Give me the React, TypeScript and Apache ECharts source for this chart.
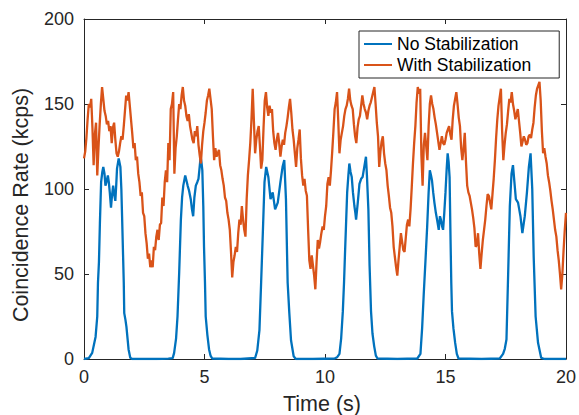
import React, { useEffect, useRef } from "react";
import * as echarts from "echarts";

const seriesNames = ["No Stabilization", "With Stabilization"];
const xTicks = [0, 5, 10, 15, 20];
const yTicks = [0, 50, 100, 150, 200];
const xTitle = "Time (s)";
const yTitle = "Coincidence Rate (kcps)";

// No Stabilization: time (s) and rate (kcps) (one row per pulse)
const noStabT = [
  0.0, 0.2, 0.34, 0.48, 0.55, 0.58, 0.62, 0.66, 0.71, 0.76, 0.8, 0.85, 0.89, 0.93, 0.99, 1.03, 1.07, 1.12, 1.16, 1.21, 1.25, 1.3, 1.34, 1.37, 1.44, 1.51, 1.55, 1.58, 1.65, 1.67, 1.72, 1.76, 1.85, 1.92, 2.0, 2.5, 3.0, 3.5,
  3.68, 3.74, 3.82, 3.88, 3.95, 4.02, 4.07, 4.12, 4.2, 4.25, 4.3, 4.36, 4.43, 4.48, 4.53, 4.58, 4.64, 4.7, 4.75, 4.8, 4.84, 4.88, 4.91, 4.95, 4.98, 5.02, 5.05, 5.12, 5.19, 5.25, 5.32, 6.0, 6.5,
  7.1, 7.19, 7.28, 7.35, 7.42, 7.49, 7.56, 7.65, 7.74, 7.83, 7.93, 8.04, 8.15, 8.24, 8.31, 8.38, 8.45, 8.52, 8.59, 8.7, 8.79, 9.5,
  10.4, 10.5, 10.6, 10.67, 10.74, 10.79, 10.83, 10.88, 10.92, 10.97, 11.01, 11.06, 11.11, 11.16, 11.22, 11.26, 11.29, 11.36, 11.43, 11.5, 11.56, 11.63, 11.7, 11.74, 11.8, 11.85, 11.91, 11.97, 12.04, 12.11, 12.18, 13.0,
  13.83, 13.96, 14.03, 14.1, 14.17, 14.24, 14.3, 14.35, 14.4, 14.44, 14.49, 14.54, 14.6, 14.65, 14.72, 14.77, 14.81, 14.86, 14.9, 14.95, 15.0, 15.05, 15.09, 15.13, 15.17, 15.21, 15.24, 15.27, 15.33, 15.4, 15.47, 15.54, 16.5,
  17.25, 17.39, 17.46, 17.53, 17.6, 17.67, 17.74, 17.8, 17.86, 17.92, 18.01, 18.06, 18.11, 18.19, 18.29, 18.38, 18.46, 18.53, 18.6, 18.66, 18.74, 18.84, 18.97, 19.11, 19.5, 20.0,
];
const noStabV = [
  0, 0.5, 3.6, 13, 25, 45, 57, 80, 104, 110, 113, 109, 102, 104, 108, 104, 98, 89, 96, 102, 97, 93, 103, 112, 118, 113, 100, 84, 45, 27, 23, 19, 5.6, 0.7, 0, 0, 0, 0.2,
  0.5, 3.6, 12, 25, 51, 82, 95, 102, 108, 105, 102, 99, 94, 88, 84, 95, 102, 104, 106, 113, 119, 115, 111, 90, 66, 45, 25, 14, 5.6, 2, 0.3, 0, 0,
  0.6, 5, 17, 45, 74, 104, 113, 107, 94, 98, 88, 92, 104, 113, 117, 94, 45, 27, 11, 1.6, 0, 0,
  0.3, 1, 3, 12, 28, 45, 62, 82, 98, 108, 115, 110, 107, 98, 90, 86, 82, 92, 103, 106, 107, 113, 119, 108, 88, 55, 28, 15, 7.6, 2, 0.3, 0,
  0.3, 3, 18, 39, 58, 78, 98, 111, 108, 105, 98, 92, 86, 82, 76, 84, 82, 78, 76, 86, 98, 112, 121, 116, 107, 70, 45, 28, 18, 9.6, 3, 0.3, 0,
  0.3, 3, 6, 11.5, 50, 90, 109, 114, 104, 94, 92, 88, 84, 74, 84, 98, 113, 121, 100, 60, 25, 9.5, 0.7, 0, 0, 0,
];

// With Stabilization: one value every 0.05 s, one row per second (kcps)
const withStabStep = 0.05;
const withStabV = [
  118, 122, 130, 141, 150, 148, 153, 136, 114, 132, 139, 108, 124, 138, 150, 160, 153, 146, 143, 138,
  140, 134, 137, 127, 136, 139, 129, 121, 119, 122, 127, 131, 129, 137, 146, 155, 152, 157, 149, 141,
  133, 124, 127, 117, 119, 109, 104, 96, 98, 86, 84, 74, 68, 59, 62, 54, 58, 54, 66, 64,
  72, 76, 70, 79, 80, 95, 90, 104, 111, 104, 127, 117, 147, 150, 157, 109, 124, 131, 141, 150,
  147, 155, 160, 152, 149, 143, 140, 144, 137, 133, 129, 127, 134, 131, 137, 126, 120, 115, 126, 134,
  139, 145, 152, 155, 159, 153, 147, 131, 117, 124, 119, 121, 123, 114, 111, 106, 102, 95, 93, 86,
  82, 76, 63, 48, 57, 61, 66, 63, 74, 82, 79, 90, 82, 76, 72, 94, 108, 117, 127, 141,
  159, 140, 121, 129, 134, 137, 125, 112, 117, 136, 152, 157, 148, 143, 149, 145, 147, 134, 127, 123,
  129, 133, 127, 119, 125, 129, 126, 133, 137, 142, 148, 153, 145, 135, 129, 121, 113, 124, 129, 135,
  118, 108, 102, 106, 99, 96, 76, 58, 53, 61, 55, 49, 41, 57, 70, 65, 69, 74, 78, 76,
  84, 90, 103, 107, 102, 111, 122, 134, 147, 151, 157, 140, 121, 129, 133, 137, 143, 147, 149, 153,
  159, 152, 149, 147, 138, 131, 127, 136, 141, 143, 149, 155, 150, 147, 145, 141, 146, 149, 151, 154,
  157, 160, 150, 139, 131, 113, 122, 128, 131, 121, 115, 111, 102, 96, 89, 86, 78, 66, 60, 54,
  49, 58, 66, 74, 69, 64, 63, 71, 79, 82, 78, 88, 101, 115, 127, 137, 151, 160, 156, 159,
  120, 102, 126, 133, 125, 117, 137, 150, 155, 150, 147, 142, 138, 133, 128, 123, 127, 131, 127, 126,
  129, 133, 135, 137, 132, 129, 141, 149, 153, 157, 150, 142, 137, 124, 117, 124, 133, 116, 102, 98,
  96, 92, 88, 83, 77, 66, 67, 74, 62, 53, 62, 70, 76, 82, 90, 97, 96, 92, 88, 97,
  106, 117, 130, 141, 149, 154, 159, 134, 117, 126, 133, 138, 146, 153, 151, 157, 150, 146, 141, 144,
  147, 140, 133, 125, 128, 131, 129, 126, 127, 131, 132, 130, 135, 139, 148, 155, 159, 161, 163, 152,
  134, 121, 124, 119, 115, 108, 104, 99, 93, 88, 82, 76, 72, 64, 58, 50, 41, 50, 64, 76, 86,
];

const FONT = "'Liberation Sans', Arial, Helvetica, sans-serif";
const INK = "#262626";
const BLUE = "#0072BD";
const ORANGE = "#D95319";

export default function App() {
  const ref = useRef<HTMLDivElement>(null);

  useEffect(() => {
    if (!ref.current) return;
    const chart = echarts.init(ref.current, undefined, { renderer: "svg" });

    const noStab = noStabT.map((t, i) => [t, noStabV[i]]);
    const withStab = withStabV.map((v, i) => [Number((i * withStabStep).toFixed(2)), v]);

    const baseAxis = {
      type: "value" as const,
      splitLine: { show: false },
      axisLine: { show: true, onZero: false, lineStyle: { color: INK, width: 1 } },
      axisTick: { show: true, inside: true, length: 5, lineStyle: { color: INK, width: 1 } },
    };

    chart.setOption({
      animation: false,
      textStyle: { fontFamily: FONT },
      grid: { left: 84, top: 19, width: 486, height: 340, containLabel: false },
      legend: {
        data: seriesNames,
        orient: "vertical",
        left: 359,
        top: 31,
        padding: [4, 28, 4, 5],
        itemGap: 3,
        itemWidth: 28,
        itemHeight: 2,
        icon: "rect",
        borderColor: INK,
        borderWidth: 1,
        backgroundColor: "#ffffff",
        textStyle: { fontFamily: FONT, fontSize: 17.5, color: "#000000", lineHeight: 18 },
      },
      graphic: [
        {
          type: "text",
          x: 322,
          y: 404,
          style: {
            text: xTitle,
            font: `21.5px ${FONT}`,
            fill: INK,
            align: "center",
            verticalAlign: "middle",
          },
        },
        {
          type: "text",
          x: 21,
          y: 205,
          rotation: Math.PI / 2,
          style: {
            text: yTitle,
            font: `21.5px ${FONT}`,
            fill: INK,
            align: "center",
            verticalAlign: "middle",
          },
        },
      ],
      xAxis: [
        {
          ...baseAxis,
          min: xTicks[0],
          max: xTicks[xTicks.length - 1],
          interval: 5,
          position: "bottom",
          axisLabel: { fontFamily: FONT, fontSize: 18, color: INK, margin: 9 },
        },
        {
          ...baseAxis,
          min: xTicks[0],
          max: xTicks[xTicks.length - 1],
          interval: 5,
          position: "top",
          axisLabel: { show: false },
        },
      ],
      yAxis: [
        {
          ...baseAxis,
          min: yTicks[0],
          max: yTicks[yTicks.length - 1],
          interval: 50,
          position: "left",
          axisLabel: { fontFamily: FONT, fontSize: 18, color: INK, margin: 10 },
        },
        {
          ...baseAxis,
          min: yTicks[0],
          max: yTicks[yTicks.length - 1],
          interval: 50,
          position: "right",
          axisLabel: { show: false },
        },
      ],
      series: [
        {
          name: seriesNames[0],
          type: "line",
          data: noStab,
          symbol: "none",
          showSymbol: false,
          lineStyle: { color: BLUE, width: 2.3 },
          itemStyle: { color: BLUE },
        },
        {
          name: seriesNames[1],
          type: "line",
          data: withStab,
          symbol: "none",
          showSymbol: false,
          lineStyle: { color: ORANGE, width: 2.3 },
          itemStyle: { color: ORANGE },
        },
      ],
    });

    return () => chart.dispose();
  }, []);

  return (
    <div
      ref={ref}
      style={{ position: "fixed", left: 0, top: 0, width: 579, height: 415, background: "#ffffff" }}
    />
  );
}
